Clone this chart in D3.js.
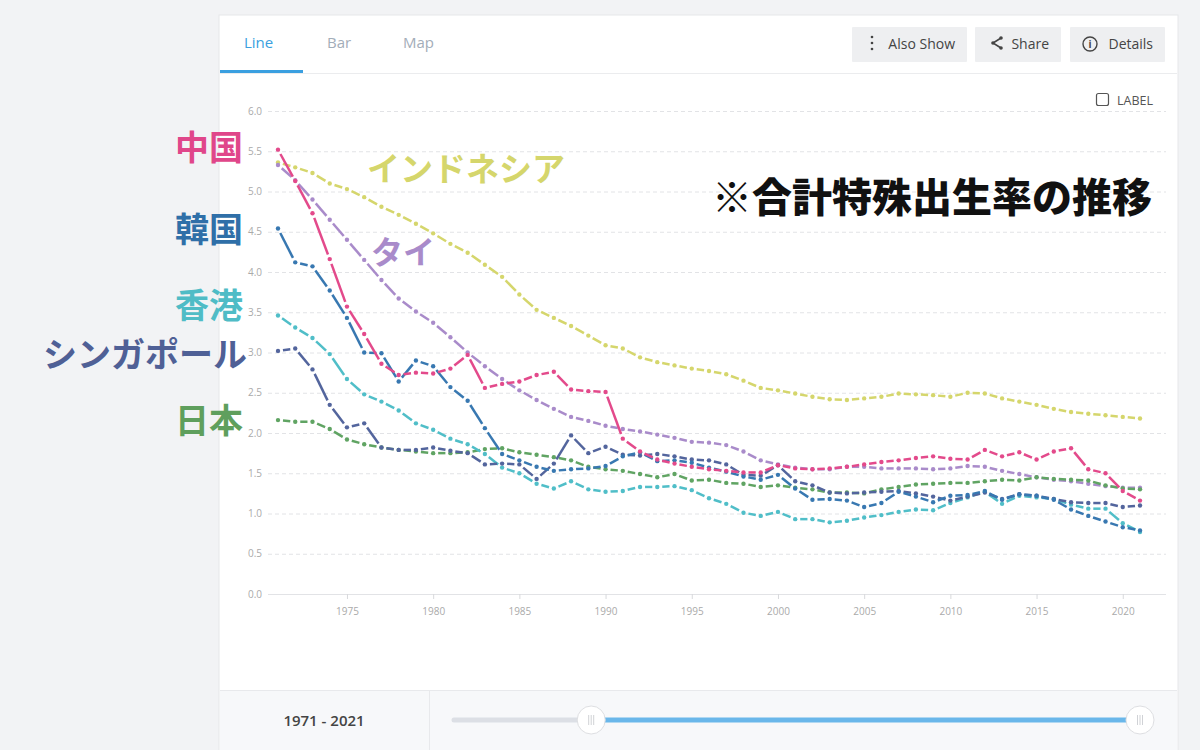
<!DOCTYPE html>
<html>
<head>
<meta charset="utf-8">
<script src="https://cdn.jsdelivr.net/npm/d3@7"></script>
<style>
  html, body { margin: 0; padding: 0; background: #f2f3f5; }
  svg { display: block; font-family: "Open Sans", sans-serif; }
  .jp { font-family: "Noto Sans CJK JP", sans-serif; font-weight: 700; }
  .axis text { fill: #aaaaaa; font-size: 10px; font-family: "Open Sans", sans-serif; }
</style>
</head>
<body>
<svg id="chart" width="1200" height="750"></svg>
<script>
// years on the axis
var years = d3.range(1971, 2022);
var xTicks = [1975, 1980, 1985, 1990, 1995, 2000, 2005, 2010, 2015, 2020];
var yTicks = [0, 0.5, 1, 1.5, 2, 2.5, 3, 3.5, 4, 4.5, 5, 5.5, 6];

// total fertility rate, 1971 - 2021
var indonesia = [5.36,5.30,5.23,5.10,5.03,4.93,4.81,4.71,4.60,4.48,
                 4.35,4.24,4.09,3.94,3.72,3.53,3.43,3.33,3.21,3.09,
                 3.05,2.94,2.88,2.84,2.80,2.77,2.73,2.65,2.56,2.53,
                 2.49,2.45,2.42,2.41,2.43,2.45,2.49,2.48,2.47,2.45,
                 2.50,2.49,2.43,2.39,2.35,2.30,2.26,2.24,2.22,2.20,2.18];
var thailand = [5.33,5.14,4.90,4.65,4.40,4.15,3.90,3.67,3.51,3.37,
                3.19,3.00,2.83,2.67,2.53,2.41,2.30,2.20,2.15,2.09,
                2.05,2.02,1.98,1.94,1.89,1.88,1.85,1.77,1.66,1.61,
                1.57,1.55,1.55,1.58,1.58,1.56,1.56,1.56,1.55,1.56,
                1.59,1.58,1.53,1.49,1.45,1.42,1.40,1.37,1.34,1.32,1.32];
var japan = [2.16,2.14,2.14,2.05,1.92,1.86,1.82,1.79,1.77,1.75,
             1.75,1.76,1.80,1.81,1.76,1.73,1.70,1.66,1.58,1.55,
             1.53,1.49,1.45,1.49,1.41,1.42,1.38,1.37,1.33,1.35,
             1.32,1.30,1.26,1.26,1.25,1.30,1.33,1.36,1.37,1.38,
             1.38,1.40,1.42,1.41,1.45,1.43,1.42,1.41,1.35,1.31,1.30];
var hongKong = [3.46,3.31,3.18,2.98,2.67,2.48,2.39,2.28,2.12,2.04,
                1.93,1.86,1.74,1.57,1.50,1.37,1.31,1.40,1.30,1.27,
                1.28,1.33,1.33,1.34,1.29,1.19,1.12,1.01,0.97,1.02,
                0.93,0.93,0.89,0.91,0.95,0.98,1.02,1.05,1.04,1.13,
                1.20,1.27,1.12,1.22,1.20,1.18,1.11,1.06,1.06,0.88,0.77];
var singapore = [3.02,3.05,2.79,2.35,2.07,2.12,1.82,1.79,1.79,1.82,
                 1.78,1.75,1.61,1.62,1.61,1.43,1.62,1.97,1.75,1.83,
                 1.73,1.72,1.74,1.71,1.67,1.66,1.61,1.48,1.47,1.60,
                 1.40,1.35,1.26,1.25,1.26,1.27,1.28,1.25,1.21,1.16,
                 1.21,1.26,1.18,1.24,1.22,1.18,1.14,1.13,1.13,1.08,1.10];
var korea = [4.54,4.12,4.07,3.77,3.43,3.00,2.99,2.64,2.90,2.83,
             2.57,2.40,2.06,1.74,1.66,1.58,1.53,1.55,1.56,1.59,
             1.71,1.76,1.65,1.66,1.63,1.57,1.52,1.46,1.42,1.48,
             1.31,1.17,1.18,1.16,1.08,1.13,1.27,1.21,1.14,1.22,
             1.23,1.28,1.17,1.24,1.22,1.17,1.05,0.97,0.90,0.83,0.79];
var china = [5.52,5.13,4.73,4.16,3.57,3.23,2.86,2.72,2.75,2.74,
             2.80,2.97,2.56,2.61,2.64,2.72,2.76,2.54,2.52,2.51,
             1.93,1.77,1.67,1.62,1.58,1.55,1.53,1.51,1.51,1.60,
             1.56,1.55,1.56,1.58,1.61,1.64,1.66,1.69,1.71,1.68,
             1.67,1.79,1.71,1.76,1.67,1.77,1.81,1.55,1.50,1.28,1.16];

var seriesNames = ["インドネシア","タイ","日本","香港","シンガポール","韓国","中国"];
var seriesValues = [indonesia, thailand, japan, hongKong, singapore, korea, china];
var seriesColors = ["#d5d66c","#a98bca","#60a463","#50bec8","#53659d","#3878b1","#e34a8b"];

var svg = d3.select("#chart");

// card
svg.append("rect").attr("x",219).attr("y",15).attr("width",959).attr("height",760)
    .attr("fill","#fff").attr("stroke","#e6e7ea");
svg.append("line").attr("x1",220).attr("x2",1177).attr("y1",73.5).attr("y2",73.5)
    .attr("stroke","#ebecee");

// tabs
var tabs = [["Line",244,"#3a9fe0"],["Bar",327,"#a3adb9"],["Map",403,"#a3adb9"]];
tabs.forEach(function(t){
    svg.append("text").attr("x",t[1]).attr("y",48).attr("fill",t[2])
        .style("font-size","15px").text(t[0]);
});
svg.append("rect").attr("x",220).attr("y",70).attr("width",83).attr("height",3).attr("fill","#3a9fe0");

// buttons
var buttons = [["Also Show",852,115],["Share",975,86],["Details",1070,95]];
buttons.forEach(function(b){
    svg.append("rect").attr("x",b[1]).attr("y",27).attr("width",b[2]).attr("height",35)
        .attr("fill","#eeeff1").attr("rx",1);
    svg.append("text").attr("x",b[1]+b[2]-12).attr("y",49).attr("text-anchor","end")
        .attr("fill","#444").style("font-size","14px").text(b[0]);
});
// icons
[37,43,49].forEach(function(cy){
    svg.append("circle").attr("cx",872).attr("cy",cy).attr("r",1.3).attr("fill","#444");
});
svg.append("path").attr("d","M1001,38 L993,43 L1001,48").attr("fill","none").attr("stroke","#444").attr("stroke-width",1.6);
[[1001,38],[993,43],[1001,48]].forEach(function(p){
    svg.append("circle").attr("cx",p[0]).attr("cy",p[1]).attr("r",1.8).attr("fill","#444");
});
svg.append("circle").attr("cx",1090).attr("cy",44).attr("r",7).attr("fill","none").attr("stroke","#444").attr("stroke-width",1.4);
svg.append("text").attr("x",1090).attr("y",48).attr("text-anchor","middle").attr("fill","#444")
    .style("font-size","10px").style("font-weight","bold").text("i");

// LABEL checkbox
svg.append("rect").attr("x",1096.5).attr("y",93.5).attr("width",12).attr("height",12).attr("rx",2)
    .attr("fill","#fff").attr("stroke","#555").attr("stroke-width",1.2);
svg.append("text").attr("x",1117).attr("y",104.5).attr("fill","#555").style("font-size","12.5px").text("LABEL");

// scales
var x = d3.scaleLinear().domain([1971, 2021]).range([278, 1140]);
var y = d3.scaleLinear().domain([0, 6]).range([594, 111]);
var left = 268, right = 1166;

var gy = svg.append("g").attr("class","axis")
    .attr("transform","translate(" + left + ",0)")
    .call(d3.axisLeft(y).tickValues(yTicks).tickFormat(d3.format(".1f"))
        .tickSize(-(right-left)).tickPadding(6));
gy.select(".domain").remove();
gy.selectAll(".tick line")
    .attr("stroke","#e2e3e6")
    .attr("stroke-dasharray", function(d){ return d === 0 ? null : "4,3"; });

var gx = svg.append("g").attr("class","axis")
    .attr("transform","translate(0," + y(0) + ")")
    .call(d3.axisBottom(x).tickValues(xTicks).tickFormat(d3.format("d")).tickSize(5).tickPadding(9));
gx.select(".domain").remove();
gx.selectAll(".tick line").attr("stroke","#d8d9dc");

// lines: a short dash between years, a dot on each year
var gap = 5;
var plot = svg.append("g");
seriesValues.forEach(function(vals, s){
    var pts = vals.map(function(v, i){ return [x(years[i]), y(v)]; });
    var segs = d3.pairs(pts).map(function(p){
        var dx = p[1][0]-p[0][0], dy = p[1][1]-p[0][1];
        var len = Math.sqrt(dx*dx+dy*dy);
        var ux = dx/len, uy = dy/len;
        return [p[0][0]+ux*gap, p[0][1]+uy*gap, p[1][0]-ux*gap, p[1][1]-uy*gap];
    });
    var g = plot.append("g");
    g.selectAll("line").data(segs).enter().append("line")
        .attr("x1",function(d){ return d[0]; })
        .attr("y1",function(d){ return d[1]; })
        .attr("x2",function(d){ return d[2]; })
        .attr("y2",function(d){ return d[3]; })
        .attr("stroke",seriesColors[s]).attr("stroke-width",2.5).attr("stroke-linecap","butt");
    g.selectAll("circle").data(pts).enter().append("circle")
        .attr("cx",function(d){ return d[0]; })
        .attr("cy",function(d){ return d[1]; })
        .attr("r",2.2).attr("fill",seriesColors[s]);
});

// series labels
var sideLabels = [
    ["中国", 243, 160, "#e0468a"],
    ["韓国", 243, 242, "#2f6fa8"],
    ["香港", 243, 318, "#4fbcc6"],
    ["シンガポール", 247, 367, "#4f6096"],
    ["日本", 243, 433, "#5f9f5d"]
];
sideLabels.forEach(function(l){
    svg.append("text").attr("class","jp").attr("x",l[1]).attr("y",l[2])
        .attr("text-anchor","end").attr("fill",l[3]).style("font-size","34px").text(l[0]);
});
svg.append("text").attr("class","jp").attr("x",367).attr("y",181)
    .attr("fill","#d5d66c").style("font-size","33px").text(seriesNames[0]);
svg.append("text").attr("class","jp").attr("x",371).attr("y",264)
    .attr("fill","#a98bca").style("font-size","32px").text(seriesNames[1]);
svg.append("text").attr("class","jp").attr("x",712).attr("y",212)
    .attr("fill","#111").style("font-size","40px").style("font-weight","900").text("※合計特殊出生率の推移");

// footer with range slider
svg.append("rect").attr("x",220).attr("y",690).attr("width",957).attr("height",60).attr("fill","#f7f8fa");
svg.append("line").attr("x1",220).attr("x2",1177).attr("y1",690.5).attr("y2",690.5).attr("stroke","#e8e9ec");
svg.append("line").attr("x1",429.5).attr("x2",429.5).attr("y1",691).attr("y2",750).attr("stroke","#e8e9ec");
svg.append("text").attr("x",324).attr("y",726).attr("text-anchor","middle").attr("fill","#444")
    .style("font-size","15px").style("font-weight","600").text(years[0] + " - " + years[years.length-1]);

var sx = d3.scaleLinear().domain([1958.5, 2021]).range([454, 1140]);
svg.append("line").attr("x1",sx(1958.5)).attr("x2",sx(1971)).attr("y1",720).attr("y2",720)
    .attr("stroke","#dcdfe5").attr("stroke-width",5).attr("stroke-linecap","round");
svg.append("line").attr("x1",sx(1971)).attr("x2",sx(2021)).attr("y1",720).attr("y2",720)
    .attr("stroke","#6ab7ea").attr("stroke-width",5);
[1971, 2021].forEach(function(yr){
    var cx = sx(yr);
    svg.append("circle").attr("cx",cx).attr("cy",720).attr("r",14)
        .attr("fill","#fff").attr("stroke","#dedfe2");
    [-2.5,0,2.5].forEach(function(o){
        svg.append("line").attr("x1",cx+o).attr("x2",cx+o).attr("y1",715).attr("y2",725)
            .attr("stroke","#d0d2d6").attr("stroke-width",1);
    });
});
</script>
</body>
</html>
